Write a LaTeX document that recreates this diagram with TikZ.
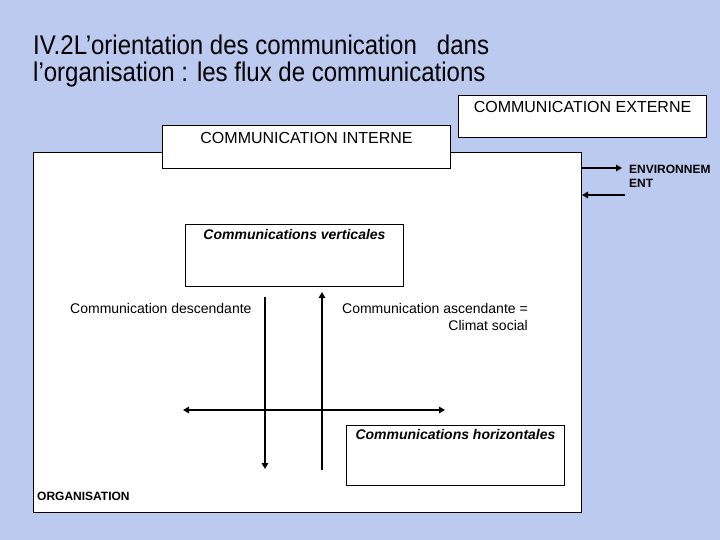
\documentclass[tikz,border=0pt]{standalone}
\usepackage{fontspec}
\setmainfont{Liberation Sans}
\usetikzlibrary{arrows.meta}
\definecolor{bgc}{RGB}{188,202,240}
\tikzset{
  box/.style={draw=black, line width=1pt, fill=white, anchor=north west, inner sep=0pt},
  flow/.style={line width=2.6pt, -{Triangle[length=6pt,width=6.5pt]}},
  flowtwo/.style={line width=2.6pt, {Triangle[length=6pt,width=6.5pt]}-{Triangle[length=6pt,width=6.5pt]}},
  title/.style={anchor=base west, inner sep=0pt, font=\fontsize{27}{30}\selectfont},
  lbl/.style={inner sep=0pt, font=\fontsize{14}{17}\selectfont},
  big/.style={inner sep=0pt, font=\fontsize{16}{19}\selectfont},
  bil/.style={inner sep=0pt, font=\fontsize{14}{17}\selectfont\bfseries\itshape},
  bsm/.style={inner sep=0pt, font=\fontsize{12}{14}\selectfont\bfseries}
}
\begin{document}
\begin{tikzpicture}[x=1pt,y=-1pt]
\useasboundingbox (0,0) rectangle (720,540);
\fill[bgc] (0,0) rectangle (720,540);
% title
\node[title] (t1) at (33,55) {\scalebox{0.89}[1]{IV.2L’orientation des communication\ \ \ dans}};
\node[title] (t2) at (33,82) {\scalebox{0.89}[1]{l’organisation : les flux de communications}};
% external
\node[box, minimum width=248pt, minimum height=42pt] (ext) at (458,95) {};
\node[big, anchor=base] (extl) at ([yshift=-18pt]ext.north) {COMMUNICATION EXTERNE};
% organisation
\node[box, minimum width=548pt, minimum height=360pt] (org) at (33,152) {};
% internal
\node[box, minimum width=288pt, minimum height=43pt] (int) at (162,125) {};
\node[big, anchor=base] (intl) at ([yshift=-19pt]int.north) {COMMUNICATION INTERNE};
% environment
\coordinate (e1) at (622,168);
\coordinate (e2) at (625,195);
\draw[flow] (org.east |- e1) -- (e1);
\draw[flow] (e2) -- (org.east |- e2);
\node[bsm, anchor=base west] (env1) at (629,174) {ENVIRONNEM};
\node[bsm, anchor=base west] (env2) at (629,188) {ENT};
% verticales
\node[box, minimum width=218pt, minimum height=62pt] (vert) at (185,224) {};
\node[bil, anchor=base] (vertl) at ([yshift=-16pt]vert.north) {Communications verticales};
% horizontales
\node[box, minimum width=218pt, minimum height=60pt] (hor) at (346,425) {};
\node[bil, anchor=base] (horl) at ([yshift=-14pt]hor.north) {Communications horizontales};
% labels
\node[lbl, anchor=base west] (desc) at (70,313) {Communication descendante};
\node[lbl, anchor=base east] (asc1) at (528,313) {Communication ascendante =};
\node[lbl, anchor=base east] (asc2) at (528,330) {Climat social};
\node[bsm, anchor=base west] (orgl) at (37,500) {ORGANISATION};
% arrows
\coordinate (d1) at (265,297);
\coordinate (d2) at (265,469);
\coordinate (u1) at (322,470);
\coordinate (u2) at (322,292);
\coordinate (h1) at (183,410);
\coordinate (h2) at (445,410);
\draw[flow] (d1) -- (d2);
\draw[flow] (u1) -- (u2);
\draw[flowtwo] (h1) -- (h2);
\end{tikzpicture}
\end{document}
